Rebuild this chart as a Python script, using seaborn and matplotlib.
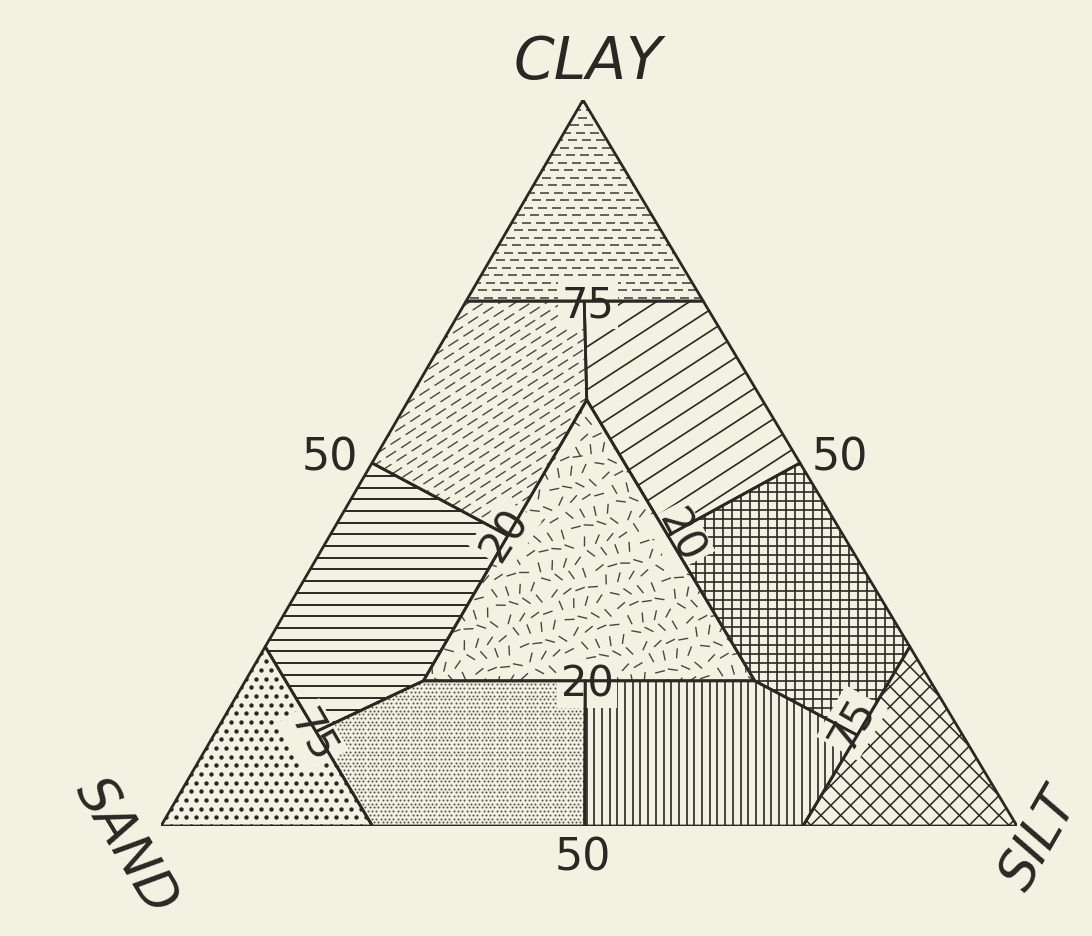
import numpy as np
import matplotlib
matplotlib.use("Agg")
import matplotlib.pyplot as plt
from matplotlib.patches import Polygon
from matplotlib.collections import LineCollection
import seaborn as sns

# corners of each texture class, given as (clay %, silt %); sand is what is left
clay = [(100, 0), (72.3, 0), (72.3, 27.7)]
sandy_clay = [(72.3, 0), (72.3, 13.8), (58.7, 20.8), (40, 20.8), (50, 0)]
silty_clay = [(72.3, 13.8), (72.3, 27.7), (50, 50), (40, 39.5), (58.7, 20.8)]
sandy_clay_loam = [(50, 0), (40, 20.8), (20, 20.8), (13, 11.7), (24.7, 0)]
clay_loam = [(58.7, 20.8), (20, 59.5), (20, 20.8)]
silty_clay_loam = [(50, 50), (24.7, 75.3), (12.5, 75.2), (20, 59.5), (40, 39.5)]
sand = [(0, 0), (24.7, 0), (0, 24.7)]
sandy_loam = [(13, 11.7), (20, 20.8), (20, 39.7), (0, 49.5), (0, 24.7)]
silt_loam = [(20, 39.7), (20, 59.5), (12.5, 75.2), (0, 75), (0, 49.5)]
silt = [(24.7, 75.3), (0, 100), (0, 75)]

corner_names = ["CLAY", "SAND", "SILT"]
edge_ticks = ["50", "50", "50"]
inner_ticks = ["75", "20", "20", "20", "75", "75"]

PAPER = "#f3f2e2"
INK = "#2b2723"
SKEW = 0.493    # apex sits a little left of the base middle
HGT = 0.848     # triangle height / base width, as drawn
PX = 8.56       # pixels per data unit
PT = 100 / 72   # pixels per point

sns.set_theme(style="white", rc={"lines.scale_dashes": False})
plt.rcParams["font.family"] = ["DejaVu Sans"]


def to_xy(pts):
    pts = np.asarray(pts, float)
    return np.column_stack([pts[:, 1] + SKEW * pts[:, 0], HGT * pts[:, 0]])


def px(x, y):
    # figure pixel -> data coords
    return (x - 161) / PX, (827 - y) / PX


def clip_patch(ax, poly):
    p = Polygon(poly, closed=True, facecolor="none", edgecolor="none")
    ax.add_patch(p)
    return p


def hatch_lines(ax, poly, angle, gap, lw=1.0, dash=None, stagger=0, color=INK):
    patch = clip_patch(ax, poly)
    c = poly.mean(0)
    r = np.hypot(*(poly - c).T).max() + 2
    t = np.array([np.cos(np.radians(angle)), np.sin(np.radians(angle))])
    n = np.array([-t[1], t[0]])
    offs = np.arange(-r, r, gap / PX)
    segs = [[c + d * n - r * t, c + d * n + r * t] for d in offs]
    ls = "solid"
    if dash:
        on, off = dash
        ls = [((i * stagger) % (on + off) / PT, (on / PT, off / PT)) for i in range(len(offs))]
    lc = LineCollection(segs, colors=color, linewidths=lw, linestyles=ls, zorder=1)
    ax.add_collection(lc)
    lc.set_clip_path(patch)


def hex_points(poly, gap):
    g = gap / PX
    (x0, y0), (x1, y1) = poly.min(0), poly.max(0)
    ys = np.arange(y0, y1 + g, g * 0.866)
    pts = []
    for i, y in enumerate(ys):
        xs = np.arange(x0 - g, x1 + g, g) + (g / 2 if i % 2 else 0)
        pts += [(x, y) for x in xs]
    return np.array(pts)


def dots(ax, poly, gap, size, color=INK):
    patch = clip_patch(ax, poly)
    p = hex_points(poly, gap)
    sns.scatterplot(x=p[:, 0], y=p[:, 1], s=size, color=color, linewidth=0,
                    legend=False, ax=ax, zorder=1)
    ax.collections[-1].set_clip_path(patch)


def scribble(ax, poly, gap, length, lw=1.0):
    patch = clip_patch(ax, poly)
    p = hex_points(poly, gap)
    k = np.arange(len(p))
    ang = np.radians(((k * 0.618034 + (k % 7) * 0.29) % 1.0) * 180)
    jit = ((k * 0.754877) % 1.0 - 0.5) * gap / PX * 0.6
    half = length / PX / 2
    cx, cy = p[:, 0] + jit, p[:, 1] - jit
    segs = [[(x - half * np.cos(a), y - half * np.sin(a)),
             (x + half * np.cos(a), y + half * np.sin(a))] for x, y, a in zip(cx, cy, ang)]
    lc = LineCollection(segs, colors="#4a4540", linewidths=lw, zorder=1)
    ax.add_collection(lc)
    lc.set_clip_path(patch)


fig = plt.figure(figsize=(10.92, 9.37), dpi=100, facecolor=PAPER)
ax = fig.add_axes([161 / 1092, 110 / 937, 856 / 1092, 726 / 937])
ax.set_xlim(0, 100)
ax.set_ylim(0, 100 * HGT)
ax.set_axis_off()

regions = [clay, sandy_clay, silty_clay, sandy_clay_loam, clay_loam,
           silty_clay_loam, sand, sandy_loam, silt_loam, silt]
polys = [to_xy(r) for r in regions]

hatch_lines(ax, polys[0], 0, 7.5, lw=1.2, dash=(9, 5), stagger=6, color="#4d4843")
hatch_lines(ax, polys[1], 33, 8.5, lw=1.0, dash=(12, 6), stagger=7, color="#4a4540")
hatch_lines(ax, polys[2], 33, 18, lw=1.2)
hatch_lines(ax, polys[3], 0, 11.7, lw=1.4)
scribble(ax, polys[4], 15, 10)
hatch_lines(ax, polys[5], 0, 9, lw=1.2)
hatch_lines(ax, polys[5], 90, 9, lw=1.2)
dots(ax, polys[6], 10, 10)
dots(ax, polys[7], 4.3, 2.2, color="#5a5550")
hatch_lines(ax, polys[8], 90, 7.7, lw=1.2)
hatch_lines(ax, polys[9], 45, 14, lw=1.1)
hatch_lines(ax, polys[9], -45, 14, lw=1.1)

for p in polys:
    ax.add_patch(Polygon(p, closed=True, fill=False, edgecolor=INK, lw=2.0,
                         joinstyle="round", zorder=3))

box = dict(boxstyle="square,pad=0.08", fc=PAPER, ec="none")

# corner names
for name, (x, y), rot, fs in zip(corner_names, [(588, 63), (126, 846), (1040, 840)],
                                 [0, -59, 60], [42, 38, 38]):
    ax.text(*px(x, y), name, fontsize=fs, fontstyle="italic", color=INK, rotation=rot,
            rotation_mode="anchor", ha="center", va="center", zorder=4)

# 50 % marks on the edges
for lab, (x, y) in zip(edge_ticks, [(330, 458), (840, 458), (583, 858)]):
    ax.text(*px(x, y), lab, fontsize=32, color=INK, ha="center", va="center", zorder=4)

# marks inside the triangle
for lab, (x, y), rot in zip(inner_ticks,
                            [(588, 306), (505, 535), (680, 537), (587, 685), (313, 737), (852, 724)],
                            [0, 57, -62, 0, -60, 60]):
    ax.text(*px(x, y), lab, fontsize=30, color=INK, rotation=rot, rotation_mode="anchor",
            ha="center", va="center", bbox=box, zorder=2)

fig.savefig("out.png", dpi=100, facecolor=PAPER)
